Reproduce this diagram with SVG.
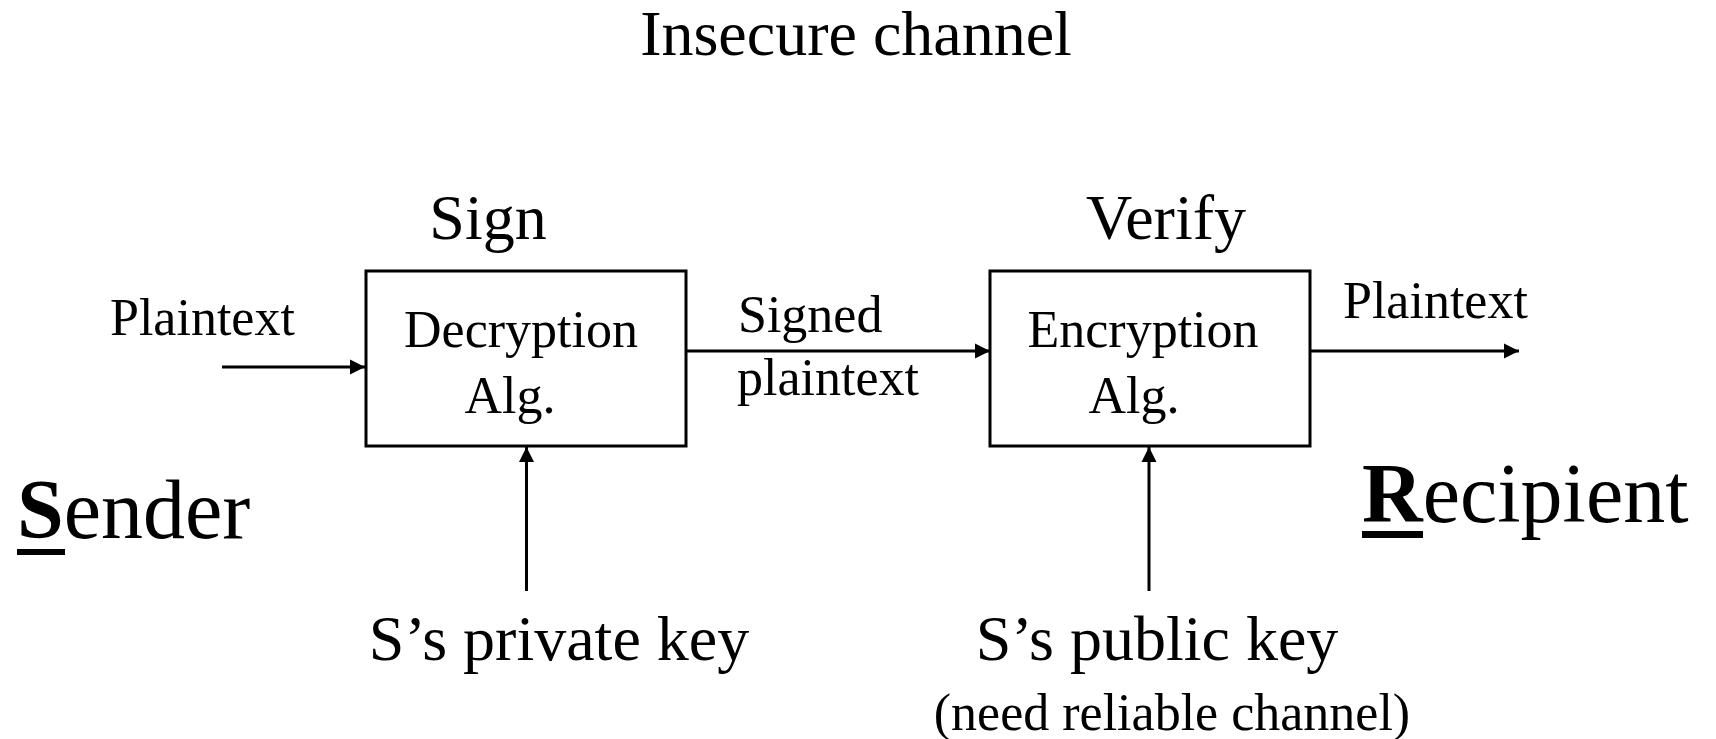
<svg xmlns="http://www.w3.org/2000/svg" width="1716" height="739" viewBox="0 0 1716 739">
<style>
text{font-family:"Liberation Serif","Times New Roman",serif;fill:#000}
.big{font-size:64px}
.mid{font-size:52px}
.huge{font-size:84px}
.box{fill:#fff;stroke:#000;stroke-width:3}
.conn{stroke:#000;stroke-width:3;fill:none}
</style>
<defs>
<marker id="ah" markerWidth="16" markerHeight="16" viewBox="0 0 16 16" refX="15" refY="8" orient="auto" markerUnits="userSpaceOnUse">
<path d="M0,0.5 L15,8 L0,15.5 Z" fill="#000"/>
</marker>
</defs>
<rect width="1716" height="739" fill="#fff"/>
<text class="big" x="856" y="55" text-anchor="middle">Insecure channel</text>
<g id="connectors">
<line class="conn" x1="222" y1="367" x2="365" y2="367" marker-end="url(#ah)"/>
<line class="conn" x1="687" y1="351" x2="990" y2="351" marker-end="url(#ah)"/>
<line class="conn" x1="1310" y1="351" x2="1519" y2="351" marker-end="url(#ah)"/>
<line class="conn" x1="526.5" y1="591" x2="526.5" y2="447" marker-end="url(#ah)"/>
<line class="conn" x1="1149" y1="591" x2="1149" y2="447" marker-end="url(#ah)"/>
</g>
<g id="sign">
<text class="big" x="488" y="239" text-anchor="middle">Sign</text>
<rect class="box" x="366" y="271" width="320" height="175"/>
<text class="mid" x="521" y="347" text-anchor="middle">Decryption</text>
<text class="mid" x="510" y="413" text-anchor="middle">Alg.</text>
</g>
<g id="verify">
<text class="big" x="1166" y="239" text-anchor="middle">Verify</text>
<rect class="box" x="990" y="271" width="320" height="175"/>
<text class="mid" x="1143" y="347" text-anchor="middle">Encryption</text>
<text class="mid" x="1134" y="413" text-anchor="middle">Alg.</text>
</g>
<text class="mid" x="110" y="335">Plaintext</text>
<text class="mid" x="738" y="332">Signed</text>
<text class="mid" x="737" y="395">plaintext</text>
<text class="mid" x="1343" y="318">Plaintext</text>
<g id="sender">
<text class="huge" x="17" y="538"><tspan font-weight="bold">S</tspan>ender</text>
<rect x="17" y="549" width="48" height="6" fill="#000"/>
</g>
<g id="recipient">
<text class="huge" x="1362" y="522"><tspan font-weight="bold">R</tspan>ecipient</text>
<rect x="1362" y="531" width="61" height="7" fill="#000"/>
</g>
<g id="private-key">
<text class="big" x="559" y="660" text-anchor="middle">S’s private key</text>
</g>
<g id="public-key">
<text class="big" x="1157" y="660" text-anchor="middle">S’s public key</text>
<text class="mid" x="1172" y="730" text-anchor="middle" font-size="53">(need reliable channel)</text>
</g>
</svg>
